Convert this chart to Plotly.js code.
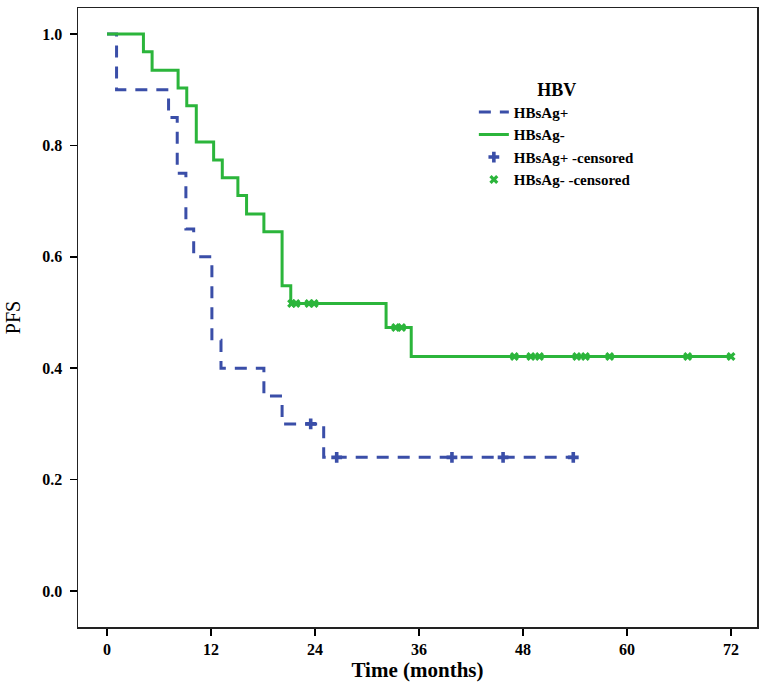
<!DOCTYPE html>
<html>
<head>
<meta charset="utf-8">
<script src="https://cdn.plot.ly/plotly-3.0.1.min.js"></script>
<style>html,body{margin:0;padding:0;background:#fff;}#chart{width:771px;height:685px;}</style>
</head>
<body>
<div id="chart"></div>
<script>
// HBsAg+ Kaplan-Meier step curve
var posTime = [0, 1.1, 7.1, 8.1, 9.1, 10.0, 12.1, 13.15, 18.1, 20.2, 25.0, 53.8];
var posPFS  = [1.0, 0.9, 0.85, 0.75, 0.65, 0.6, 0.45, 0.4, 0.35, 0.3, 0.24, 0.24];
// HBsAg- Kaplan-Meier step curve
var negTime = [0, 4.2, 5.2, 8.2, 9.2, 10.3, 12.3, 13.3, 15.1, 16.1, 18.1, 20.2, 21.2, 32.2, 35.1, 72.0];
var negPFS  = [1.0, 0.968, 0.935, 0.903, 0.871, 0.806, 0.774, 0.742, 0.710, 0.677, 0.645, 0.548, 0.516, 0.473, 0.421, 0.421];
// censored observations
var posCensTime = [23.5, 26.5, 39.8, 45.7, 53.8];
var posCensPFS  = [0.3, 0.24, 0.24, 0.24, 0.24];
var negCensTime = [21.3, 21.8, 23.3, 23.9, 33.3, 34.0, 47.0, 48.9, 49.9, 54.2, 55.2, 58.0, 67.0, 72.0];
var negCensPFS  = [0.516, 0.516, 0.516, 0.516, 0.473, 0.473, 0.421, 0.421, 0.421, 0.421, 0.421, 0.421, 0.421, 0.421];
var xTicks = [0, 12, 24, 36, 48, 60, 72];
var yTicks = [0.0, 0.2, 0.4, 0.6, 0.8, 1.0];
var yTickText = ['0.0', '0.2', '0.4', '0.6', '0.8', '1.0'];

var blue = '#3a4ea8', green = '#2bb53b';
var serif = 'Liberation Serif, Times New Roman, serif';

var traces = [
  {x: posTime, y: posPFS, name: 'HBsAg+', mode: 'lines', line: {shape: 'hv', color: blue, width: 3, dash: '12px,9px'}},
  {x: negTime, y: negPFS, name: 'HBsAg-', mode: 'lines', line: {shape: 'hv', color: green, width: 3}},
  {x: posCensTime, y: posCensPFS, name: 'HBsAg+ -censored', mode: 'markers',
   marker: {symbol: 'cross', size: 9, color: blue}},
  {x: negCensTime, y: negCensPFS, name: 'HBsAg- -censored', mode: 'markers',
   marker: {symbol: 'x', size: 8, color: green}}
];

var layout = {
  width: 771, height: 685,
  margin: {l: 78, r: 14, t: 8, b: 58},
  paper_bgcolor: '#fff', plot_bgcolor: '#fff',
  font: {family: serif, color: '#000'},
  showlegend: true,
  legend: {
    x: 0.583, y: 0.896, xanchor: 'left', yanchor: 'top',
    bgcolor: 'rgba(0,0,0,0)',
    font: {family: serif, size: 15, color: '#000', weight: 'bold'},
    title: {text: '<b>HBV</b>', side: 'top center', font: {family: serif, size: 18, color: '#000'}},
    tracegroupgap: 0, itemwidth: 30
  },
  xaxis: {
    range: [-3.35, 75.0], tickvals: xTicks, ticktext: xTicks.map(String),
    ticks: 'outside', ticklen: 7, tickwidth: 1.5, tickcolor: '#000',
    showline: true, linecolor: '#222', linewidth: 1.5, mirror: true,
    showgrid: false, zeroline: false,
    tickfont: {family: serif, size: 16, color: '#000', weight: 'bold'},
    title: {text: '<b>Time (months)</b>', font: {family: serif, size: 21, color: '#000'}, standoff: 3}
  },
  yaxis: {
    range: [-0.0646, 1.0467], tickvals: yTicks, ticktext: yTickText,
    ticks: 'outside', ticklen: 7, tickwidth: 1.5, tickcolor: '#000',
    showline: true, linecolor: '#222', linewidth: 1.5, mirror: true,
    showgrid: false, zeroline: false, ticklabelstandoff: 4,
    tickfont: {family: serif, size: 16, color: '#000', weight: 'bold'},
    title: {text: 'PFS', font: {family: serif, size: 20, color: '#000'}, standoff: 16}
  }
};

Plotly.newPlot('chart', traces, layout, {staticPlot: true, displayModeBar: false});
</script>
</body>
</html>
